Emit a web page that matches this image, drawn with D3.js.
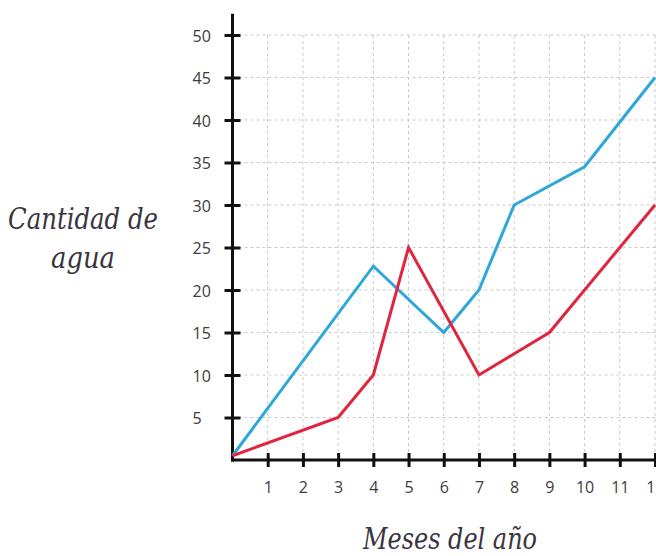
<!DOCTYPE html>
<html>
<head>
<meta charset="utf-8">
<script src="https://cdn.jsdelivr.net/npm/d3@7"></script>
<style>
  body { margin: 0; background: #fff; }
  svg { display: block; }
</style>
</head>
<body>
<div id="chart"></div>
<script>
// =====================
// DATA
// =====================
const monthTicks = [1, 2, 3, 4, 5, 6, 7, 8, 9, 10, 11, 12];
const valueTicks = [5, 10, 15, 20, 25, 30, 35, 40, 45, 50];

const blueMonths = [0, 4, 6, 7, 8, 10, 12];
const blueValues = [0.5, 22.8, 15, 20, 30, 34.5, 45];

const redMonths = [0, 3, 4, 5, 7, 9, 12];
const redValues = [0.5, 5, 10, 25, 10, 15, 30];

const yTitle = ["Cantidad de", "agua"];
const xTitle = "Meses del año";

// =====================
// SVG SETUP
// =====================
const W = 656, H = 556;

const svg = d3.select("#chart")
  .append("svg")
  .attr("width", W)
  .attr("height", H);

// =====================
// SCALES
// =====================
const x = d3.scaleLinear().domain([0, 12]).range([232.5, 655]);
const y = d3.scaleLinear().domain([0, 50]).range([460, 35]);

// =====================
// GRID
// =====================
const grid = svg.append("g")
  .attr("stroke", "#c9c9c9")
  .attr("stroke-width", 1)
  .attr("stroke-dasharray", "3,3");

grid.selectAll(".vg")
  .data(monthTicks)
  .enter()
  .append("line")
  .attr("x1", d => x(d)).attr("x2", d => x(d))
  .attr("y1", y(50)).attr("y2", y(0));

grid.selectAll(".hg")
  .data(valueTicks)
  .enter()
  .append("line")
  .attr("x1", x(0)).attr("x2", x(12.1))
  .attr("y1", d => y(d)).attr("y2", d => y(d));

// =====================
// AXES
// =====================
const yAxis = svg.append("g")
  .attr("transform", `translate(${x(0)},0)`)
  .call(d3.axisLeft(y).tickValues(valueTicks).tickSize(8));

yAxis.select(".domain").remove();
yAxis.selectAll(".tick line")
  .attr("x1", -8).attr("x2", 8)
  .attr("stroke", "#111").attr("stroke-width", 3);
yAxis.selectAll(".tick text")
  .attr("x", -40)
  .attr("dy", "0.38em")
  .attr("text-anchor", "start")
  .style("font-family", "'Open Sans', sans-serif")
  .style("font-size", "16px")
  .style("fill", "#3c3c3c");

const xAxis = svg.append("g")
  .attr("transform", `translate(0,${y(0)})`)
  .call(d3.axisBottom(x).tickValues(monthTicks).tickSize(8));

xAxis.select(".domain").remove();
xAxis.selectAll(".tick line")
  .attr("y1", -7).attr("y2", 7)
  .attr("stroke", "#111").attr("stroke-width", 3);
xAxis.selectAll(".tick text")
  .attr("y", 22)
  .style("font-family", "'Open Sans', sans-serif")
  .style("font-size", "16px")
  .style("fill", "#3c3c3c");

// axis lines
svg.append("line")
  .attr("x1", x(0)).attr("x2", x(0))
  .attr("y1", y(52.5)).attr("y2", y(0) + 1.5)
  .attr("stroke", "#111").attr("stroke-width", 3);

svg.append("line")
  .attr("x1", x(0) - 1.5).attr("x2", W)
  .attr("y1", y(0)).attr("y2", y(0))
  .attr("stroke", "#111").attr("stroke-width", 3);

// =====================
// LINES
// =====================
const line = d3.line()
  .x(d => x(d[0]))
  .y(d => y(d[1]));

svg.append("path")
  .datum(d3.zip(blueMonths, blueValues))
  .attr("fill", "none")
  .attr("stroke", "#2ea8d9")
  .attr("stroke-width", 3)
  .attr("stroke-linejoin", "miter")
  .attr("d", line);

svg.append("path")
  .datum(d3.zip(redMonths, redValues))
  .attr("fill", "none")
  .attr("stroke", "#e0253f")
  .attr("stroke-width", 3)
  .attr("stroke-linejoin", "miter")
  .attr("d", line);

// =====================
// LABELS
// =====================
const titleFont = "'DejaVu Serif Condensed', 'DejaVu Serif', serif";

svg.selectAll(".ytitle")
  .data(yTitle)
  .enter()
  .append("text")
  .attr("x", 83)
  .attr("y", (d, i) => 229 + i * 39)
  .attr("text-anchor", "middle")
  .attr("textLength", (d, i) => i === 0 ? 150 : 64)
  .attr("lengthAdjust", "spacingAndGlyphs")
  .style("font-family", titleFont)
  .style("font-style", "italic")
  .style("font-size", "29px")
  .style("fill", "#3a3441")
  .text(d => d);

svg.append("text")
  .attr("x", 450)
  .attr("y", 549)
  .attr("text-anchor", "middle")
  .attr("textLength", 174)
  .attr("lengthAdjust", "spacingAndGlyphs")
  .style("font-family", titleFont)
  .style("font-style", "italic")
  .style("font-size", "29px")
  .style("fill", "#3a3441")
  .text(xTitle);
</script>
</body>
</html>
